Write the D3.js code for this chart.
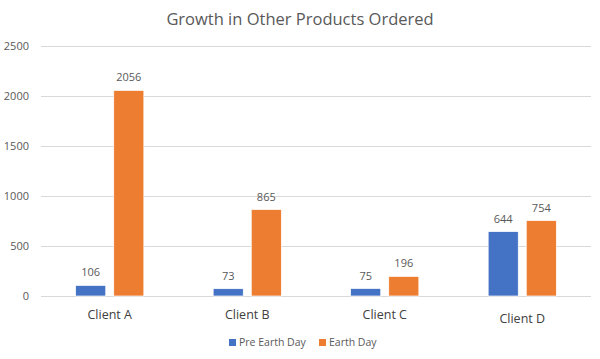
<!DOCTYPE html>
<html><head><meta charset="utf-8">
<script src="https://cdn.jsdelivr.net/npm/d3@7"></script>
<style>body{margin:0;background:#fff}svg{display:block}text{font-family:"Open Sans",Carlito,Calibri,sans-serif}</style>
</head><body><svg id="c" width="600" height="359"></svg>
<script>
const categories = ["Client A","Client B","Client C","Client D"];
const seriesNames = ["Pre Earth Day","Earth Day"];
const preEarthDay = [106, 73, 75, 644];
const earthDay = [2056, 865, 196, 754];
const yTicks = [0, 500, 1000, 1500, 2000, 2500];
const colors = ["#4472C4", "#ED7D31"];

const svg = d3.select("#c");
const mLeft = 41, mRight = 591, mTop = 46, mBottom = 296;
const x = d3.scaleBand().domain(categories).range([mLeft, mRight]);
const xs = d3.scaleBand().domain(seriesNames).range([0, x.bandwidth()]).paddingInner(0.21).paddingOuter(0.91);
const y = d3.scaleLinear().domain([0, 2500]).range([mBottom, mTop]);

svg.append("text").attr("x", 300).attr("y", 25).attr("text-anchor", "middle")
  .attr("font-size", 16.5).attr("fill", "#595959").text("Growth in Other Products Ordered");

const yAxis = d3.axisLeft(y).tickValues(yTicks).tickSize(-(mRight - mLeft)).tickFormat(d3.format("d"));
const ga = svg.append("g").attr("transform", `translate(${mLeft},0)`).call(yAxis);
ga.select(".domain").remove();
ga.selectAll(".tick line").attr("stroke", "#d9d9d9").attr("stroke-width", 1);
ga.selectAll(".tick text").attr("x", -12).attr("fill", "#595959").attr("font-size", 11)
  .style("font-family", '"Open Sans",sans-serif');

const data = categories.map((c, i) => ({c, vals: [preEarthDay[i], earthDay[i]]}));
const groups = svg.append("g").selectAll("g").data(data).join("g")
  .attr("transform", d => `translate(${x(d.c)},0)`);
groups.selectAll("rect").data(d => d.vals.map((v, j) => ({v, s: seriesNames[j], j})))
  .join("rect")
  .attr("x", d => xs(d.s)).attr("width", xs.bandwidth())
  .attr("y", d => y(d.v)).attr("height", d => y(0) - y(d.v))
  .attr("fill", d => colors[d.j]).attr("stroke", "#fff").attr("stroke-width", 0.7);
groups.selectAll("text.v").data(d => d.vals.map((v, j) => ({v, s: seriesNames[j]})))
  .join("text").attr("class", "v")
  .attr("x", d => xs(d.s) + xs.bandwidth() / 2).attr("y", d => y(d.v) - 9)
  .attr("text-anchor", "middle").attr("font-size", 11).attr("fill", "#595959").text(d => d.v);

svg.append("g").selectAll("text").data(categories).join("text")
  .attr("x", d => x(d) + x.bandwidth() / 2)
  .attr("y", (d, i) => i === 3 ? 323 : 319)
  .attr("text-anchor", "middle").attr("font-size", 12.5).attr("fill", "#404040").text(d => d);

const lg = svg.append("g");
const legendX = [229, 319];
seriesNames.forEach((s, i) => {
  lg.append("rect").attr("x", legendX[i]).attr("y", 339).attr("width", 7).attr("height", 7).attr("fill", colors[i]);
  lg.append("text").attr("x", legendX[i] + 10).attr("y", 346).attr("font-size", 10.5).attr("fill", "#595959").text(s);
});
</script></body></html>
